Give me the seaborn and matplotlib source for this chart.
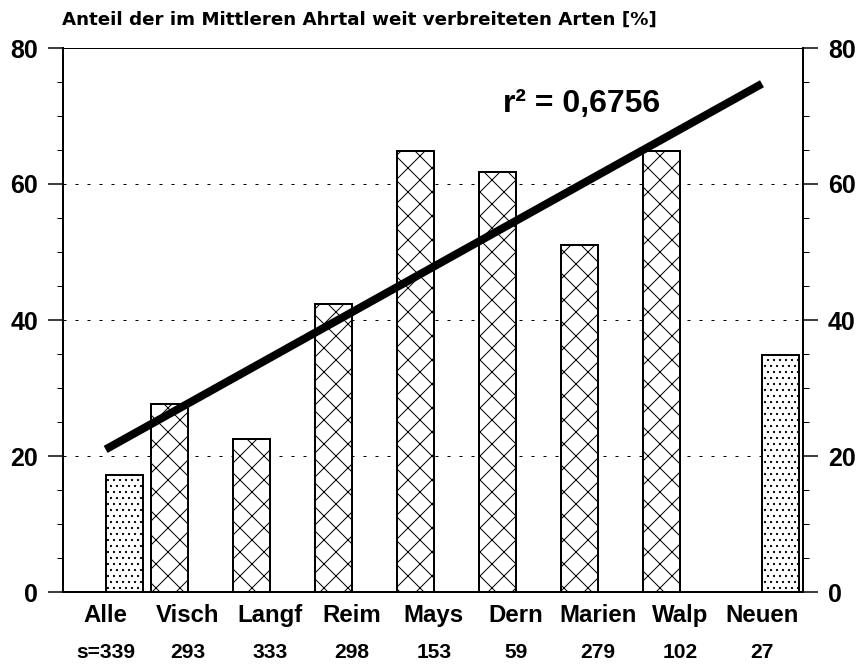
import matplotlib
matplotlib.use('Agg')
import matplotlib.pyplot as plt
import numpy as np
import pandas as pd
import seaborn as sns

# Data
sites = ['Alle', 'Visch', 'Langf', 'Reim', 'Mays', 'Dern', 'Marien', 'Walp', 'Neuen']
share = [17.2, 27.6, 22.5, 42.4, 64.9, 61.7, 51.0, 64.9, 34.9]
kind = ['dot', 'cross', 'cross', 'cross', 'cross', 'cross', 'cross', 'cross', 'dot']
n_species = ['s=339', '293', '333', '298', '153', '59', '279', '102', '27']
r2_text = 'r² = 0,6756'
y_ticks = [0, 20, 40, 60, 80]

df = pd.DataFrame({'site': sites, 'share': share, 'kind': kind})

sns.set_style('ticks')
plt.rcParams['font.family'] = ['Liberation Sans', 'DejaVu Sans']
plt.rcParams['font.weight'] = 'bold'
plt.rcParams['hatch.linewidth'] = 1.0
for key in ['text.color', 'xtick.color', 'ytick.color', 'axes.edgecolor',
            'xtick.labelcolor', 'ytick.labelcolor']:
    plt.rcParams[key] = 'black'

fig = plt.figure(figsize=(858 / 72, 664 / 72), dpi=72)
ax = fig.add_axes([63 / 858, 1 - 592 / 664, 740 / 858, 544 / 664])

sns.barplot(data=df, x='site', y='share', hue='kind', hue_order=['cross', 'dot'],
            order=sites, dodge=True, width=0.9, errorbar=None, legend=False, ax=ax,
            zorder=2)

hatches = {0: 'x', 1: '..'}
for i, cont in enumerate(ax.containers):
    for bar in cont:
        bar.set_facecolor('white')
        bar.set_edgecolor('black')
        bar.set_linewidth(2)
        bar.set_hatch(hatches[i])

# regression line through the seven Ahr valley sites
xs = np.arange(1, 8)
coef = np.polyfit(xs, share[1:8], 1)
xl = np.array([0, 8])
ax.plot(xl, np.polyval(coef, xl), color='black', lw=8, solid_capstyle='butt', zorder=5)
ax.text(5.8, 71.8, r2_text, ha='center', va='center', fontsize=32, fontweight='bold')

for y in y_ticks[1:-1]:
    ax.axhline(y, color='black', lw=1, ls=(0, (3, 9)), zorder=1)

ax.set_xlim(-0.52, 8.5)
ax.set_ylim(0, 80)
ax.set_yticks(y_ticks)
ax.set_yticks(np.arange(0, 81, 5), minor=True)
ax.yaxis.set_ticks_position('both')
ax.tick_params(axis='y', which='major', direction='out', length=15, width=1.5,
               labelsize=25, pad=10, labelright=True)
ax.tick_params(axis='y', which='minor', direction='out', length=6, width=1)
ax.tick_params(axis='x', length=0, labelsize=24, pad=12)
for lab in ax.get_xticklabels() + ax.get_yticklabels():
    lab.set_fontweight('bold')
ax.set_xlabel('')
ax.set_ylabel('')

for side in ['left', 'right', 'bottom']:
    ax.spines[side].set_linewidth(2)
    ax.spines[side].set_visible(True)
ax.spines['top'].set_visible(True)
ax.spines['top'].set_linewidth(1)

for i, s in enumerate(n_species):
    ax.text(i, -8.9, s, ha='center', va='center', fontsize=21, fontweight='bold')

fig.text(62 / 858, 1 - 20 / 664, 'Anteil der im Mittleren Ahrtal weit verbreiteten Arten [%]',
         ha='left', va='center', fontsize=18.3, fontweight='bold', family='DejaVu Sans')

fig.savefig('out.png', dpi=72)
